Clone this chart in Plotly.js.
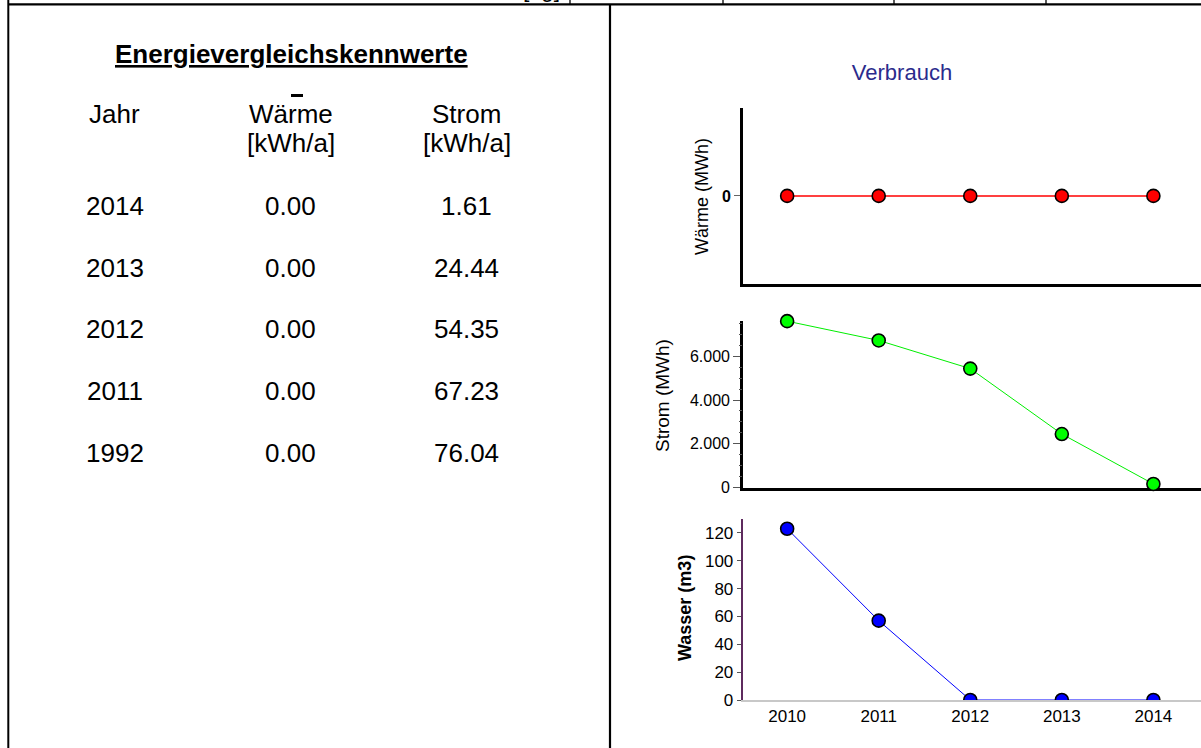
<!DOCTYPE html>
<html>
<head>
<meta charset="utf-8">
<script src="https://cdn.plot.ly/plotly-3.0.1.min.js"></script>
<style>
html,body{margin:0;padding:0;background:#fff;overflow:hidden;}
#chart{width:1201px;height:748px;}
</style>
</head>
<body>
<div id="chart"></div>
<script>
// ---- chart data ----
const years = [2010, 2011, 2012, 2013, 2014];
const waerme = [0, 0, 0, 0, 0];
const strom = [7604, 6723, 5435, 2444, 161];
const wasser = [123, 57, 0, 0, 0];
const stromTicks = [0, 2000, 4000, 6000];
const stromTickText = ['0', '2.000', '4.000', '6.000'];
const stromMinorTicks = [500, 1000, 1500, 2500, 3000, 3500, 4500, 5000, 5500, 6500, 7000, 7500];
const wasserTicks = [0, 20, 40, 60, 80, 100, 120];

// ---- table data ----
const tableTitle = 'Energievergleichskennwerte';
const tableHeaders = ['Jahr', 'Wärme', 'Strom'];
const tableUnits = ['', '[kWh/a]', '[kWh/a]'];
const tableYears = ['2014', '2013', '2012', '2011', '1992'];
const tableWaerme = [0.00, 0.00, 0.00, 0.00, 0.00];
const tableStrom = [1.61, 24.44, 54.35, 67.23, 76.04];

const W = 1201, H = 748;
const FONT = 'Liberation Sans, Arial, sans-serif';
const X = px => px / W;
const Y = py => 1 - py / H;

const markerLine = {color: '#000000', width: 1.6};
const traces = [
  {x: years, y: waerme, xaxis: 'x', yaxis: 'y', type: 'scatter', mode: 'lines+markers',
   line: {color: '#ff0000', width: 1.5},
   marker: {size: 13, color: '#ff0000', line: markerLine}, cliponaxis: false, hoverinfo: 'skip'},
  {x: years, y: strom, xaxis: 'x2', yaxis: 'y2', type: 'scatter', mode: 'lines+markers',
   line: {color: '#00ee00', width: 1},
   marker: {size: 13, color: '#00ff00', line: markerLine}, cliponaxis: false, hoverinfo: 'skip'},
  {x: years, y: wasser, xaxis: 'x3', yaxis: 'y3', type: 'scatter', mode: 'lines+markers',
   line: {color: '#0000ff', width: 1},
   marker: {size: 13, color: '#0000ff', line: markerLine}, cliponaxis: true, hoverinfo: 'skip'},
  // carrier for the minor-tick axis of the Strom panel (draws nothing)
  {x: [], y: [], xaxis: 'x2', yaxis: 'y4', type: 'scatter', mode: 'markers', hoverinfo: 'skip', showlegend: false}
];

const xDomain = [X(743.2), 1];
const xRange = [2009.52, 2014.52];
function xAxis(anchor, extra) {
  return Object.assign({
    domain: xDomain, range: xRange, anchor: anchor, showline: true, linecolor: '#000000',
    linewidth: 3, showgrid: false, zeroline: false, showticklabels: false, ticks: '',
    fixedrange: true
  }, extra || {});
}

const annotations = [];
annotations.push({text: '<b><u>' + tableTitle + '</u></b>', x: X(291), y: Y(53.5), xref: 'paper', yref: 'paper',
  xanchor: 'center', yanchor: 'middle', showarrow: false, font: {family: FONT, size: 26, color: '#000'}});
const colX = [114.5, 290.5, 466.5];
tableHeaders.forEach((h, i) => {
  annotations.push({text: h, x: X(colX[i]), y: Y(113.5), xref: 'paper', yref: 'paper',
    xanchor: 'center', yanchor: 'middle', showarrow: false, font: {family: FONT, size: 26, color: '#000'}});
  if (tableUnits[i]) {
    annotations.push({text: tableUnits[i], x: X(colX[i]), y: Y(143), xref: 'paper', yref: 'paper',
      xanchor: 'center', yanchor: 'middle', showarrow: false, font: {family: FONT, size: 26, color: '#000'}});
  }
});
tableYears.forEach((yr, r) => {
  const py = 206 + r * 61.68;
  const vals = [yr, tableWaerme[r].toFixed(2), tableStrom[r].toFixed(2)];
  vals.forEach((v, c) => {
    annotations.push({text: v, x: X(colX[c]), y: Y(py), xref: 'paper', yref: 'paper',
      xanchor: 'center', yanchor: 'middle', showarrow: false, font: {family: FONT, size: 26, color: '#000'}});
  });
});
annotations.push({text: 'Wärme (MWh)', x: X(701.5), y: Y(196.5), xref: 'paper', yref: 'paper', textangle: -90,
  xanchor: 'center', yanchor: 'middle', showarrow: false, font: {family: FONT, size: 18, color: '#000'}});
annotations.push({text: 'Strom (MWh)', x: X(662), y: Y(396), xref: 'paper', yref: 'paper', textangle: -90,
  xanchor: 'center', yanchor: 'middle', showarrow: false, font: {family: FONT, size: 19, color: '#000'}});
annotations.push({text: '<b>Wasser (m3)</b>', x: X(685), y: Y(608), xref: 'paper', yref: 'paper', textangle: -90,
  xanchor: 'center', yanchor: 'middle', showarrow: false, font: {family: FONT, size: 18, color: '#000'}});
// clipped header fragment of the table above (cut off in the reference too)
annotations.push({text: '[kg]', x: X(541.5), y: Y(4.5), xref: 'paper', yref: 'paper',
  xanchor: 'center', yanchor: 'bottom', showarrow: false, font: {family: FONT, size: 23, color: '#000'}});

const ln = (x0, y0, x1, y1, w) => ({type: 'line', xref: 'paper', yref: 'paper',
  x0: X(x0), y0: Y(y0), x1: X(x1), y1: Y(y1), line: {color: '#000000', width: w}});
const shapes = [
  ln(8.3, 0, 8.3, 748, 2),
  ln(8.3, 4.3, 1201, 4.3, 2.2),
  ln(570, 0, 570, 4, 1.3),
  ln(723, 0, 723, 4, 1.3),
  ln(894, 0, 894, 4, 1.3),
  ln(1046, 0, 1046, 4, 1.3),
  ln(610, 4, 610, 748, 2.2),
  ln(291, 95.5, 303, 95.5, 3)
];

const stromDomain = [Y(487.5), Y(320.7)];
const stromRange = [0, 7625];

const layout = {
  width: W, height: H,
  margin: {l: 0, r: 0, t: 0, b: 0, pad: 0},
  paper_bgcolor: '#ffffff', plot_bgcolor: 'rgba(0,0,0,0)',
  showlegend: false,
  font: {family: FONT, color: '#000000'},
  title: {text: 'Verbrauch', font: {family: FONT, size: 22, color: '#2b2b8c'},
    x: X(902), xanchor: 'center', xref: 'paper', y: Y(72.5), yanchor: 'middle', yref: 'paper'},
  xaxis: xAxis('y'),
  yaxis: {domain: [Y(283.5), Y(108.3)], range: [-1, 1], anchor: 'x', showline: true, linecolor: '#000000',
    linewidth: 3, showgrid: false, zeroline: false, tickvals: [0], ticktext: ['0'], ticks: 'outside',
    ticklen: 6, tickcolor: '#666666', tickfont: {family: FONT, size: 16, color: '#000', weight: 'bold'}, fixedrange: true},
  xaxis2: xAxis('y2', {layer: 'below traces'}),
  yaxis2: {domain: stromDomain, range: stromRange, anchor: 'x2', showline: true, linecolor: '#000000',
    linewidth: 3, showgrid: false, zeroline: false, tickvals: stromTicks, ticktext: stromTickText,
    ticks: 'outside', ticklen: 7, tickcolor: '#555555',
    tickfont: {family: FONT, size: 16, color: '#000'}, layer: 'below traces', fixedrange: true},
  yaxis4: {domain: stromDomain, range: stromRange, overlaying: 'y2', anchor: 'x2', side: 'left',
    showline: false, showgrid: false, zeroline: false, tickvals: stromMinorTicks, showticklabels: false,
    ticks: 'outside', ticklen: 3, tickcolor: '#555555', fixedrange: true},
  xaxis3: xAxis('y3', {linecolor: '#c8c8c8', linewidth: 2, showticklabels: true, tickvals: years,
    ticktext: years.map(String), tickfont: {family: FONT, size: 17, color: '#000'}}),
  yaxis3: {domain: [Y(700), Y(519)], range: [0, 130], anchor: 'x3', showline: true, linecolor: '#5e2a5e',
    linewidth: 2.5, showgrid: false, zeroline: false, tickvals: wasserTicks, ticks: 'outside', ticklen: 4,
    tickcolor: '#555555', tickfont: {family: FONT, size: 17, color: '#000'}, fixedrange: true},
  annotations: annotations,
  shapes: shapes
};

Plotly.newPlot('chart', traces, layout, {staticPlot: true, displayModeBar: false});
</script>
</body>
</html>
